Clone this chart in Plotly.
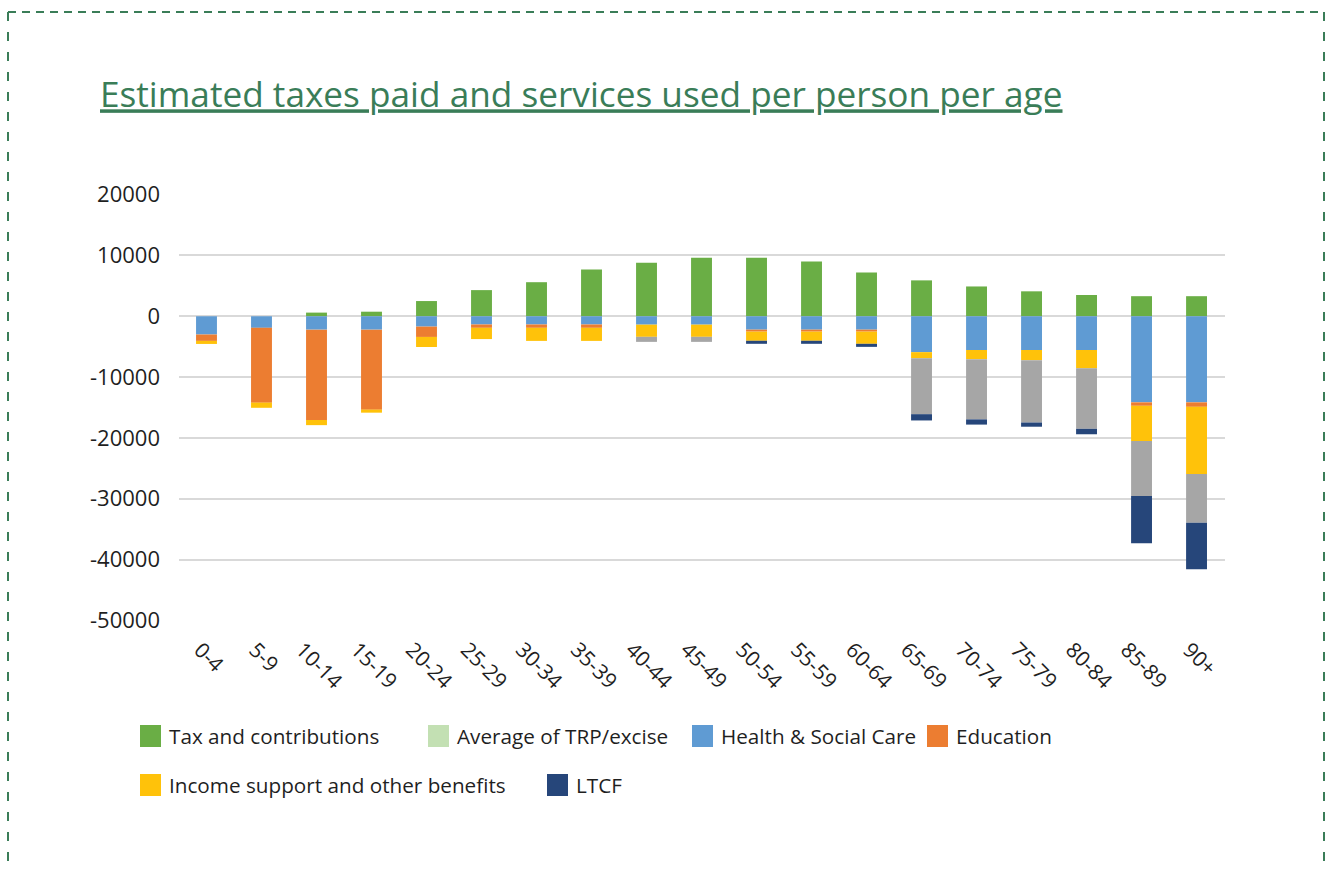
import plotly.graph_objects as go

# Age bands on the x axis
age_bands = ["0-4", "5-9", "10-14", "15-19", "20-24", "25-29", "30-34", "35-39",
             "40-44", "45-49", "50-54", "55-59", "60-64", "65-69", "70-74",
             "75-79", "80-84", "85-89", "90+"]

# Per-person amounts (GBP) by age band; services used are negative
tax_contrib = [0, 0, 600, 750, 2500, 4300, 5600, 7700, 8800, 9600, 9600, 9000,
               7200, 5900, 4900, 4100, 3500, 3300, 3300]
trp_excise = [0, 0, 0, 0, 0, 0, 0, 0, 0, 0, 0, 0, 0, 0, 0, 0, 0, 0, 0]
health_care = [-3000, -1900, -2200, -2200, -1700, -1350, -1350, -1350, -1380,
               -1380, -2200, -2200, -2200, -5900, -5550, -5550, -5550, -14150,
               -14150]
education = [-1050, -12300, -14850, -13150, -1700, -550, -550, -550, 0, 0, -330,
             -330, -330, 0, 0, 0, 0, -570, -740]
income_support = [-500, -850, -850, -500, -1650, -1850, -2150, -2150, -2000,
                  -2000, -1500, -1500, -2000, -1000, -1500, -1670, -3000, -5800,
                  -11050]
pensions = [0, 0, 0, 0, 0, 0, 0, 0, -830, -830, 0, 0, 0, -9200, -9900, -10250,
            -9950, -9050, -8000]
ltcf = [0, 0, 0, 0, 0, 0, 0, 0, 0, 0, -500, -500, -500, -1030, -860, -690, -900,
        -7750, -7650]

# Y axis ticks
y_tick_vals = [20000, 10000, 0, -10000, -20000, -30000, -40000, -50000]
y_tick_text = ["20000", "10000", "0", "-10000", "-20000", "-30000", "-40000", "-50000"]

series = [
    ("Tax and contributions", tax_contrib, "#6AAE45", True),
    ("Average of TRP/excise", trp_excise, "#C3E0B3", True),
    ("Health & Social Care", health_care, "#5F9BD3", True),
    ("Education", education, "#EC7D31", True),
    ("State pension", pensions, "#A6A6A6", False),
    ("Income support and other benefits", income_support, "#FFC20A", True),
    ("LTCF", ltcf, "#26467A", True),
]
# stacking order below zero: health, education, income support, pensions, LTCF
stack_order = ["Tax and contributions", "Average of TRP/excise", "Health & Social Care",
               "Education", "Income support and other benefits", "State pension", "LTCF"]
series_by_name = {s[0]: s for s in series}

W, H = 1330, 872
L, R, T, B = 179, 105, 194, 251
PW, PH = W - L - R, H - T - B


def px(x):
    return (x - L) / PW


def py(y):
    return (H - B - y) / PH


fig = go.Figure()
for name in stack_order:
    _, vals, color, _ = series_by_name[name]
    fig.add_trace(go.Bar(x=age_bands, y=vals, name=name, marker_color=color,
                         marker_line_width=0, showlegend=False))

FONT = "Open Sans, Noto Sans, sans-serif"
TXT = "#1F1F1F"
GREEN = "#3A7D58"

shapes = []
annotations = []

# category labels, rotated and centred under each bar
for band in age_bands:
    annotations.append(dict(text=band, xref="x", yref="paper", x=band, y=py(633),
                            xanchor="center", yanchor="top", xshift=3, textangle=45,
                            showarrow=False, font=dict(family=FONT, size=21, color=TXT)))

# legend entries laid out in two rows
legend_rows = [
    [("Tax and contributions", 140), ("Average of TRP/excise", 428),
     ("Health & Social Care", 692), ("Education", 927)],
    [("Income support and other benefits", 140), ("LTCF", 547)],
]
row_centres = [736, 785]
for row, yc in zip(legend_rows, row_centres):
    for name, x0 in row:
        color = series_by_name[name][2]
        shapes.append(dict(type="rect", xref="paper", yref="paper",
                           x0=px(x0), x1=px(x0 + 21), y0=py(yc + 11), y1=py(yc - 11),
                           fillcolor=color, line=dict(width=0)))
        annotations.append(dict(text=name, xref="paper", yref="paper",
                                x=px(x0 + 27), y=py(yc), xanchor="left", yanchor="middle",
                                showarrow=False, font=dict(family=FONT, size=20.7, color=TXT)))

# dashed frame around the chart
frame = dict(color=GREEN, width=2)
shapes += [
    dict(type="line", xref="paper", yref="paper", x0=px(8), x1=px(1324), y0=py(12), y1=py(12),
         line=dict(dash="8px,6px", **frame)),
    dict(type="line", xref="paper", yref="paper", x0=px(8), x1=px(8), y0=py(12), y1=py(880),
         line=dict(dash="9px,11px", **frame)),
    dict(type="line", xref="paper", yref="paper", x0=px(1324), x1=px(1324), y0=py(12), y1=py(880),
         line=dict(dash="9px,11px", **frame)),
]

fig.update_layout(
    width=W, height=H,
    margin=dict(l=L, r=R, t=T, b=B),
    paper_bgcolor="white", plot_bgcolor="white",
    barmode="relative", bargap=0.62,
    font=dict(family=FONT, size=20, color=TXT),
    title=dict(text="Estimated taxes paid and services used per person per age",
               xref="container", yref="container", x=100 / W, xanchor="left",
               y=1 - 95 / H, yanchor="middle",
               font=dict(family=FONT, size=35.2, color=GREEN, lineposition="under")),
    xaxis=dict(showgrid=False, showline=False, ticks="", showticklabels=False),
    yaxis=dict(range=[-50100, 20100], tickvals=y_tick_vals, ticktext=y_tick_text,
               showgrid=True, gridcolor="#D9D9D9", gridwidth=1.5,
               zeroline=True, zerolinecolor="#D9D9D9", zerolinewidth=1.5,
               showline=False, ticks="", ticklabelstandoff=18,
               tickfont=dict(size=22, color=TXT)),
    shapes=shapes, annotations=annotations,
)

fig.write_html("out.html")
